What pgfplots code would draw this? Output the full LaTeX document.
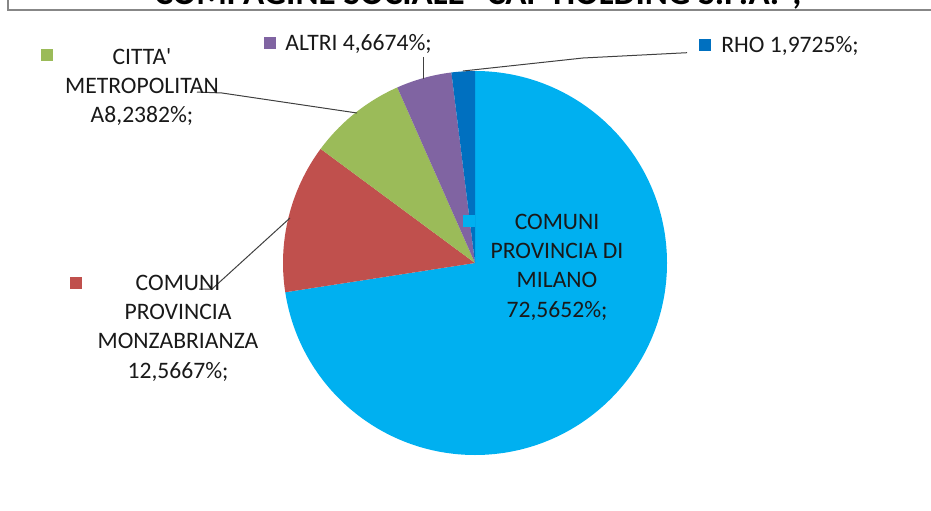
\documentclass[border=0pt]{standalone}
\usepackage{pgfplots}
\usepackage{pgfplotstable}
\pgfplotsset{compat=1.18}
\usepackage{fontspec}
\setmainfont{Carlito}

\definecolor{milano}{HTML}{00B0F0}
\definecolor{monza}{HTML}{C0504D}
\definecolor{citta}{HTML}{9BBB59}
\definecolor{altri}{HTML}{8064A2}
\definecolor{rho}{HTML}{0070C0}
\definecolor{framegray}{HTML}{878787}
\definecolor{leader}{HTML}{404040}

% quote in percent, clockwise from 12 o'clock
\pgfplotstableread{
share
72.5652
12.5667
8.2382
4.6674
1.9725
}\shares

\newcommand{\key}[1]{\textcolor{#1}{\rule{6pt}{6pt}}}

\begin{document}
\begin{tikzpicture}[x=0.5pt,y=0.5pt,
    lbl/.style={font=\fontsize{11.8}{14.6}\selectfont, text=black!90, inner sep=0pt}]
\useasboundingbox (0,0) rectangle (931,510);
\clip (0,0) rectangle (931,510);

% cumulative angles
\pgfmathsetmacro\aO{90}
\pgfplotstablegetelem{0}{share}\of\shares \pgfmathsetmacro\aA{\aO-3.6*\pgfplotsretval}
\pgfplotstablegetelem{1}{share}\of\shares \pgfmathsetmacro\aB{\aA-3.6*\pgfplotsretval}
\pgfplotstablegetelem{2}{share}\of\shares \pgfmathsetmacro\aC{\aB-3.6*\pgfplotsretval}
\pgfplotstablegetelem{3}{share}\of\shares \pgfmathsetmacro\aD{\aC-3.6*\pgfplotsretval}
\pgfplotstablegetelem{4}{share}\of\shares \pgfmathsetmacro\aE{\aD-3.6*\pgfplotsretval}

\begin{axis}[
    hide axis,
    scale only axis,
    width=192pt, height=192pt,
    xmin=-1, xmax=1, ymin=-1, ymax=1,
    at={(237.5pt,123.5pt)}, anchor=center,
    clip=false,
]
\fill[milano] (axis cs:0,0) -- (axis cs:{cos(\aO)},{sin(\aO)}) arc[start angle=\aO, end angle=\aA, radius=1] -- cycle;
\fill[monza]  (axis cs:0,0) -- (axis cs:{cos(\aA)},{sin(\aA)}) arc[start angle=\aA, end angle=\aB, radius=1] -- cycle;
\fill[citta]  (axis cs:0,0) -- (axis cs:{cos(\aB)},{sin(\aB)}) arc[start angle=\aB, end angle=\aC, radius=1] -- cycle;
\fill[altri]  (axis cs:0,0) -- (axis cs:{cos(\aC)},{sin(\aC)}) arc[start angle=\aC, end angle=\aD, radius=1] -- cycle;
\fill[rho]    (axis cs:0,0) -- (axis cs:{cos(\aD)},{sin(\aD)}) arc[start angle=\aD, end angle=\aE, radius=1] -- cycle;
\end{axis}

% frame of the chart area
\draw[framegray, line width=1pt] (8,510) -- (8,500) -- (931,500);

% title (cut off at the top)
\node[anchor=base, inner sep=0pt, font=\fontsize{17.5}{18}\selectfont\bfseries]
  at (478,505) {COMPAGINE SOCIALE "CAP HOLDING S.P.A.";};

% leader lines
\draw[leader, line width=0.5pt] (197,418) -- (222,417) -- (357,397);
\draw[leader, line width=0.5pt] (423,453) -- (423,431);
\draw[leader, line width=0.5pt] (687,457.3) -- (583,452) -- (463,439);
\draw[leader, line width=0.5pt] (199,221) -- (212,221) -- (290,292);

% data labels (anchor = baseline of the last line)
\node[inner sep=0pt] at (46.5,455) {\key{citta}};
\node[lbl, anchor=base, align=center] at (142,387) {CITTA\textquotesingle\\METROPOLITAN\\A8,2382\%;};

\node[inner sep=0pt] at (270,467) {\key{altri}};
\node[lbl, anchor=base west] at (285,459) {ALTRI 4,6674\%;};

\node[inner sep=0pt] at (705,465) {\key{rho}};
\node[lbl, anchor=base west] at (721,458) {RHO 1,9725\%;};

\node[inner sep=0pt] at (76,227) {\key{monza}};
\node[lbl, anchor=base, align=center] at (178,132) {COMUNI\\PROVINCIA\\MONZABRIANZA\\12,5667\%;};

\node[inner sep=0pt] at (469,289) {\key{milano}};
\node[lbl, anchor=base, align=center] at (557,193) {COMUNI\\PROVINCIA DI\\MILANO\\72,5652\%;};
\end{tikzpicture}
\end{document}
